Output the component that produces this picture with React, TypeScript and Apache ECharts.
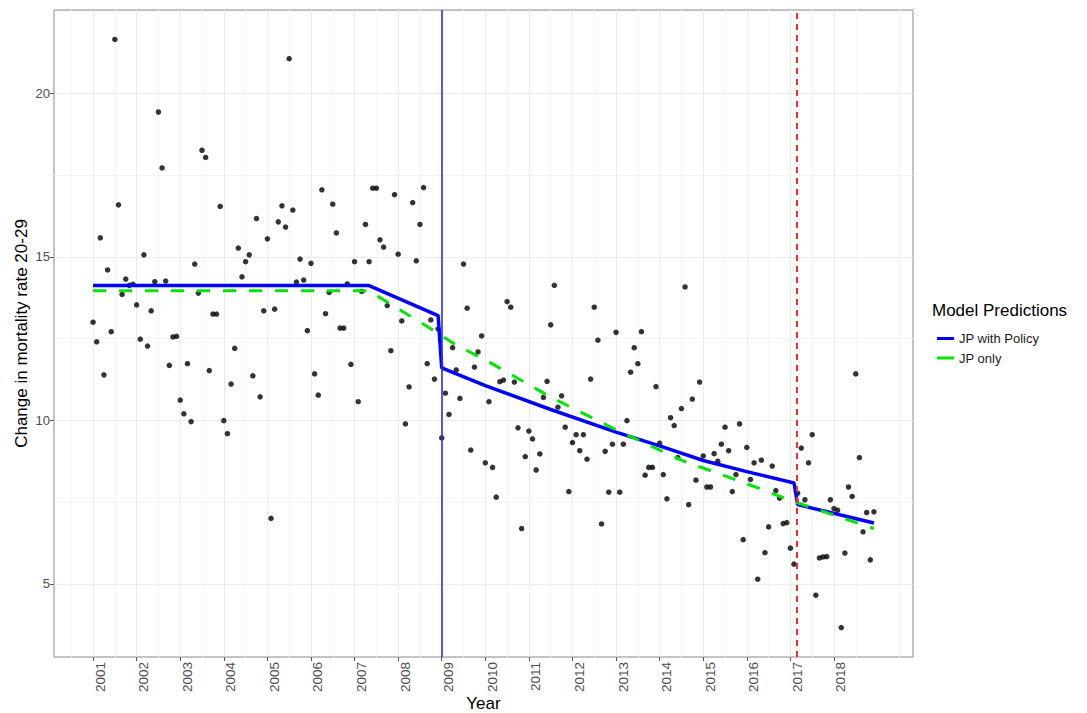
import React, { useEffect, useRef } from "react";
import * as echarts from "echarts";

// ---------- data ----------
const START_YEAR = 2001;
const rates2001 = [13.0, 12.4, 15.58, 11.39, 14.6, 12.71, 21.65, 16.59, 13.85, 14.32, 14.13, 14.16];
const rates2002 = [13.53, 12.48, 15.06, 12.27, 13.35, 14.24, 19.43, 17.72, 14.26, 11.68, 12.55, 12.57];
const rates2003 = [10.62, 10.2, 11.73, 9.96, 14.78, 13.89, 18.26, 18.04, 11.52, 13.25, 13.25, 16.54];
const rates2004 = [9.99, 9.59, 11.11, 12.2, 15.27, 14.39, 14.85, 15.06, 11.36, 16.17, 10.72, 13.35];
const rates2005 = [15.55, 7.0, 13.4, 16.07, 16.56, 15.91, 21.06, 16.43, 14.23, 14.93, 14.29, 12.74];
const rates2006 = [14.8, 11.42, 10.77, 17.05, 13.26, 13.91, 16.61, 15.73, 12.82, 12.82, 14.17, 11.71];
const rates2007 = [14.85, 10.57, 13.94, 15.99, 14.85, 17.1, 17.1, 15.52, 15.3, 13.51, 12.13, 16.9];
const rates2008 = [15.08, 13.04, 9.89, 11.02, 16.66, 14.88, 15.99, 17.12, 11.73, 13.07, 11.26, 12.8];
const rates2009 = [9.46, 10.83, 10.18, 12.22, 11.54, 10.67, 14.78, 13.43, 9.09, 11.63, 12.09, 12.58];
const rates2010 = [8.7, 10.57, 8.56, 7.65, 11.18, 11.23, 13.63, 13.46, 11.17, 9.77, 6.69, 8.89];
const rates2011 = [9.67, 9.43, 8.48, 8.97, 10.7, 11.19, 12.92, 14.13, 10.4, 10.75, 9.79, 7.82];
const rates2012 = [9.32, 9.56, 9.07, 9.56, 8.81, 11.26, 13.46, 12.45, 6.83, 9.05, 7.8, 9.27];
const rates2013 = [12.69, 7.8, 9.27, 9.99, 11.47, 12.22, 11.73, 12.71, 8.32, 8.56, 8.56, 11.03];
const rates2014 = [9.3, 8.34, 7.6, 10.08, 9.84, 8.86, 10.36, 14.08, 7.42, 10.65, 8.17, 11.17];
const rates2015 = [8.91, 7.96, 7.96, 8.98, 8.75, 9.27, 9.79, 9.07, 7.82, 8.34, 9.89, 6.35];
const rates2016 = [9.17, 8.19, 8.7, 5.14, 8.78, 5.95, 6.74, 8.6, 7.85, 7.62, 6.84, 6.87];
const rates2017 = [6.09, 5.6, 7.77, 9.15, 7.57, 8.7, 9.56, 4.65, 5.79, 5.82, 5.83, 7.57];
const rates2018 = [7.3, 7.25, 3.66, 5.94, 7.96, 7.67, 11.42, 8.86, 6.59, 7.18, 5.73, 7.2];

const policyYears = [2001, 2007.333, 2008.917, 2009.0, 2010.0, 2011.5, 2013.0, 2014.0, 2015.0, 2016.0, 2017.083, 2017.167, 2018.917];
const policyValues = [14.12, 14.12, 13.2, 11.6, 11.06, 10.33, 9.64, 9.22, 8.77, 8.43, 8.08, 7.42, 6.86];

const jpOnlyYears = [2001, 2007.333, 2008.0, 2008.75, 2009.33, 2010.0, 2011.5, 2013.0, 2014.5, 2015.25, 2016.0, 2017.0, 2018.0, 2018.917];
const jpOnlyValues = [13.96, 13.96, 13.41, 12.8, 12.3, 11.85, 10.71, 9.71, 8.78, 8.42, 8.06, 7.55, 7.1, 6.69];

const policyStartYear = 2009.0;
const secondBreakYear = 2017.15;

const yearTicks = [2001, 2002, 2003, 2004, 2005, 2006, 2007, 2008, 2009, 2010, 2011, 2012, 2013, 2014, 2015, 2016, 2017, 2018];
const yearMinor = [2000.5, 2001.5, 2002.5, 2003.5, 2004.5, 2005.5, 2006.5, 2007.5, 2008.5, 2009.5, 2010.5, 2011.5, 2012.5, 2013.5, 2014.5, 2015.5, 2016.5, 2017.5, 2018.5, 2019.5];
const valueTicks = [5, 10, 15, 20];
const valueMinor = [7.5, 12.5, 17.5, 22.5];

const X_MIN = 2000.104;
const X_MAX = 2019.813;
const Y_MIN = 2.76;
const Y_MAX = 22.55;

const FONT = "'Liberation Sans', Arial, Helvetica, sans-serif";

export default function App() {
  const ref = useRef<HTMLDivElement>(null);

  useEffect(() => {
    if (!ref.current) return;
    const chart = echarts.init(ref.current, undefined, { renderer: "svg", width: 1087, height: 713 });

    const monthlyRates = [
      rates2001, rates2002, rates2003, rates2004, rates2005, rates2006,
      rates2007, rates2008, rates2009, rates2010, rates2011, rates2012,
      rates2013, rates2014, rates2015, rates2016, rates2017, rates2018,
    ].flat();
    const points = monthlyRates.map((v, i) => [START_YEAR + i / 12, v]);

    const majorStyle = { color: "#EBEBEB", width: 1, type: "solid" };
    const minorStyle = { color: "#F4F4F4", width: 1, type: "solid" };

    const gridData: any[] = [
      ...yearMinor.map((v) => ({ xAxis: v, lineStyle: minorStyle })),
      ...valueMinor.map((v) => ({ yAxis: v, lineStyle: minorStyle })),
      ...yearTicks.map((v) => ({ xAxis: v, lineStyle: majorStyle })),
      ...valueTicks.map((v) => ({ yAxis: v, lineStyle: majorStyle })),
    ];

    const option: any = {
      animation: false,
      backgroundColor: "#ffffff",
      textStyle: { fontFamily: FONT },
      grid: {
        left: 54,
        width: 859,
        top: 10,
        height: 647,
        outerBoundsMode: "none",
        containLabel: false,
        show: true,
        backgroundColor: "#ffffff",
        borderColor: "#888888",
        borderWidth: 1,
        z: 0,
      },
      xAxis: {
        type: "value",
        min: X_MIN,
        max: X_MAX,
        name: "Year",
        nameLocation: "middle",
        nameGap: 40,
        nameMoveOverlap: false,
        nameTextStyle: { fontSize: 17, lineHeight: 12, color: "#000000", fontFamily: FONT },
        axisLine: { show: false, onZero: false },
        splitLine: { show: false },
        minorSplitLine: { show: false },
        axisTick: {
          show: true,
          customValues: yearTicks,
          length: 4,
          lineStyle: { color: "#555555", width: 1 },
        },
        axisLabel: {
          customValues: yearTicks,
          rotate: 90,
          verticalAlign: "top",
          fontSize: 13.5,
          color: "#4D4D4D",
          margin: 5,
          fontFamily: FONT,
          formatter: (v: number) => String(Math.round(v)),
        },
      },
      yAxis: {
        type: "value",
        min: Y_MIN,
        max: Y_MAX,
        name: "Change in mortality rate 20-29",
        nameLocation: "middle",
        nameGap: 24,
        nameRotate: 90,
        nameMoveOverlap: false,
        nameTextStyle: { fontSize: 17, color: "#000000", fontFamily: FONT },
        axisLine: { show: false, onZero: false },
        splitLine: { show: false },
        axisTick: {
          show: true,
          customValues: valueTicks,
          length: 4,
          lineStyle: { color: "#555555", width: 1 },
        },
        axisLabel: {
          customValues: valueTicks,
          fontSize: 13,
          color: "#4D4D4D",
          margin: 4,
          fontFamily: FONT,
          formatter: (v: number) => String(Math.round(v)),
        },
      },
      legend: {
        data: ["JP with Policy", "JP only"],
        orient: "vertical",
        left: 932,
        top: 327,
        icon: "rect",
        itemWidth: 17,
        itemHeight: 3,
        itemGap: 6.5,
        selectedMode: false,
        textStyle: { fontSize: 13, color: "#1A1A1A", fontFamily: FONT, padding: [0, 0, 0, 0] },
      },
      graphic: [
        {
          type: "text",
          left: 932,
          top: 302,
          style: { text: "Model Predictions", fontSize: 17, fill: "#000000", fontFamily: FONT },
        },
      ],
      series: [
        {
          name: "gridlines",
          type: "line",
          data: [],
          silent: true,
          z: 1,
          markLine: {
            silent: true,
            z: 1,
            symbol: ["none", "none"],
            label: { show: false },
            emphasis: { disabled: true },
            data: gridData,
          },
        },
        {
          name: "Observed",
          type: "scatter",
          data: points,
          symbol: "circle",
          symbolSize: 5.5,
          itemStyle: { color: "#000000" },
          z: 3,
          silent: true,
        },
        {
          name: "JP with Policy",
          type: "line",
          data: policyYears.map((x, i) => [x, policyValues[i]]),
          showSymbol: false,
          symbol: "none",
          lineStyle: { color: "#0000FF", width: 3.5 },
          itemStyle: { color: "#0000FF" },
          z: 4,
          silent: true,
        },
        {
          name: "JP only",
          type: "line",
          data: jpOnlyYears.map((x, i) => [x, jpOnlyValues[i]]),
          showSymbol: false,
          symbol: "none",
          lineStyle: { color: "#00E600", width: 3, type: [13, 13] },
          itemStyle: { color: "#00E600" },
          z: 5,
          silent: true,
        },
        {
          name: "breaks",
          type: "line",
          data: [],
          silent: true,
          z: 6,
          markLine: {
            silent: true,
            z: 6,
            symbol: ["none", "none"],
            label: { show: false },
            emphasis: { disabled: true },
            data: [
              { xAxis: policyStartYear, lineStyle: { color: "#2B2BFF", width: 1.6, type: "solid" } },
              { xAxis: secondBreakYear, lineStyle: { color: "#FF2A2A", width: 2, type: [6, 5] } },
            ],
          },
        },
      ],
    };

    chart.setOption(option);
    return () => {
      chart.dispose();
    };
  }, []);

  return (
    <div
      ref={ref}
      style={{ position: "fixed", left: 0, top: 0, width: 1087, height: 713, background: "#ffffff" }}
    />
  );
}
